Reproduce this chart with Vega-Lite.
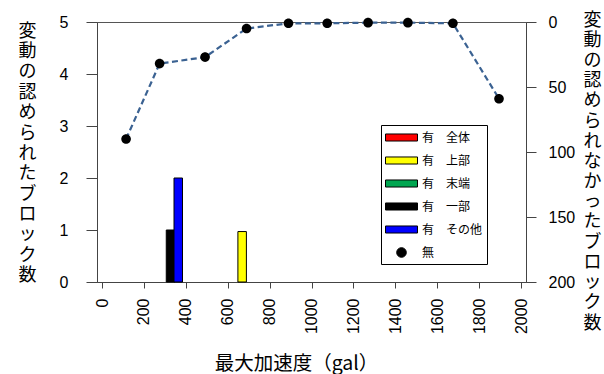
{
  "$schema": "https://vega.github.io/schema/vega-lite/v6.json",
  "autosize": "none",
  "width": 429,
  "height": 260,
  "padding": {"left": 97, "top": 22, "right": 78, "bottom": 92},
  "background": "white",
  "config": {
    "view": {"stroke": "#555", "strokeWidth": 1},
    "font": "Liberation Sans",
    "axis": {
      "grid": false,
      "domainColor": "#444",
      "tickColor": "#444",
      "labelFont": "Liberation Sans",
      "labelFontSize": 16,
      "labelColor": "black",
      "titleFont": "Noto Sans CJK JP",
      "titleFontWeight": "normal",
      "titleFontSize": 18,
      "titleColor": "black"
    },
    "legend": {
      "title": null,
      "orient": "none",
      "legendX": 284,
      "legendY": 103,
      "strokeColor": "black",
      "fillColor": "white",
      "padding": 4,
      "rowPadding": 8,
      "symbolSize": 256,
      "symbolOffset": 8,
      "symbolStrokeColor": "black",
      "symbolStrokeWidth": 1,
      "symbolOpacity": 1,
      "labelFont": "Noto Sans CJK JP",
      "labelFontSize": 12,
      "labelOffset": 12,
      "labelLimit": 200,
      "labelColor": "black"
    }
  },
  "datasets": {
    "present": [
      {"acc": 327, "blocks": 1, "status": "有　一部"},
      {"acc": 364, "blocks": 2, "status": "有　その他"},
      {"acc": 669, "blocks": 0.97, "status": "有　上部"}
    ],
    "absent": [
      {"acc": 115, "blocks": 90, "status": "無"},
      {"acc": 275, "blocks": 32, "status": "無"},
      {"acc": 492, "blocks": 27, "status": "無"},
      {"acc": 690, "blocks": 5, "status": "無"},
      {"acc": 890, "blocks": 1, "status": "無"},
      {"acc": 1075, "blocks": 1, "status": "無"},
      {"acc": 1270, "blocks": 0.5, "status": "無"},
      {"acc": 1460, "blocks": 0.5, "status": "無"},
      {"acc": 1675, "blocks": 1, "status": "無"},
      {"acc": 1895, "blocks": 59, "status": "無"}
    ]
  },
  "encoding": {
    "x": {
      "field": "acc",
      "type": "quantitative",
      "scale": {"domain": [0, 2000], "nice": false},
      "axis": {
        "title": "最大加速度（gal）",
        "values": [0, 200, 400, 600, 800, 1000, 1200, 1400, 1600, 1800, 2000],
        "format": "d",
        "labelAngle": -90,
        "tickSize": 6,
        "labelPadding": 10,
        "titleFontSize": 19.5,
        "titleX": 199,
        "titleY": 81,
        "titleAnchor": null,
        "titleAlign": "center",
        "titleBaseline": "middle"
      }
    }
  },
  "layer": [
    {
      "data": {"name": "present"},
      "mark": {"type": "bar", "size": 8.5, "stroke": "black", "strokeWidth": 1},
      "encoding": {
        "y": {
          "field": "blocks",
          "type": "quantitative",
          "scale": {"domain": [0, 5], "nice": false},
          "axis": {
            "orient": "left",
            "title": ["変", "動", "の", "認", "め", "ら", "れ", "た", "ブ", "ロ", "ッ", "ク", "数"],
            "values": [0, 1, 2, 3, 4, 5],
            "tickSize": 11,
            "labelPadding": 18,
            "titleAngle": 0,
            "titleX": -70,
            "titleY": 0,
            "titleAnchor": null,
            "titleAlign": "center",
            "titleBaseline": "top",
            "titleLineHeight": 20.4
          }
        },
        "color": {
          "field": "status",
          "type": "nominal",
          "scale": {
            "domain": ["有　全体", "有　上部", "有　末端", "有　一部", "有　その他", "無"],
            "range": ["#ff0000", "#ffff00", "#00a650", "#000000", "#0000ff", "#000000"]
          }
        }
      }
    },
    {
      "data": {"name": "absent"},
      "layer": [
        {
          "mark": {"type": "line", "color": "#3b6292", "strokeWidth": 2.2, "strokeDash": [6, 3.5]},
          "encoding": {
            "y": {
              "field": "blocks",
              "type": "quantitative",
              "scale": {"domain": [0, 200], "reverse": true, "nice": false},
              "axis": {
                "orient": "right",
                "title": ["変", "動", "の", "認", "め", "ら", "れ", "な", "か", "っ", "た", "ブ", "ロ", "ッ", "ク", "数"],
                "values": [0, 50, 100, 150, 200],
                "tickSize": 10,
                "labelPadding": 12,
                "titleAngle": 0,
                "titleX": 66,
                "titleY": -11,
                "titleAnchor": null,
                "titleAlign": "center",
                "titleBaseline": "top",
                "titleLineHeight": 20.2
              }
            }
          }
        },
        {
          "mark": {"type": "point", "filled": true, "size": 256, "opacity": 1},
          "encoding": {
            "y": {"field": "blocks", "type": "quantitative"},
            "color": {
              "field": "status",
              "type": "nominal",
              "legend": {
                "encode": {
                  "symbols": {
                    "update": {
                      "stroke": {"value": "black"},
                      "strokeWidth": {"value": 1}
                    }
                  }
                }
              }
            },
            "shape": {
              "field": "status",
              "type": "nominal",
              "scale": {
                "domain": ["有　全体", "有　上部", "有　末端", "有　一部", "有　その他", "無"],
                "range": [
                  "M-2,-0.44H2V0.44H-2Z",
                  "M-2,-0.44H2V0.44H-2Z",
                  "M-2,-0.44H2V0.44H-2Z",
                  "M-2,-0.44H2V0.44H-2Z",
                  "M-2,-0.44H2V0.44H-2Z",
                  "M0.6,0A0.6,0.6 0 1,1 -0.6,0A0.6,0.6 0 1,1 0.6,0Z"
                ]
              }
            }
          }
        }
      ]
    }
  ],
  "resolve": {"scale": {"y": "independent"}}
}
